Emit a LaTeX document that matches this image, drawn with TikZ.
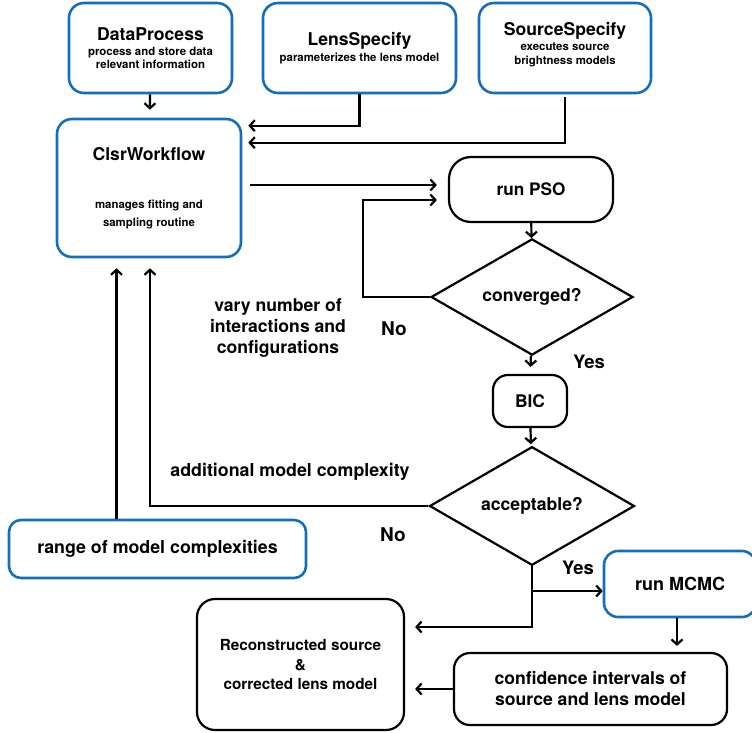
\documentclass[tikz,border=0pt]{standalone}
\usepackage{fontspec}
\setmainfont{TeX Gyre Heros}
\usetikzlibrary{arrows.meta,positioning,shapes.geometric}
\definecolor{boxblue}{RGB}{20,110,185}
\newcommand{\fs}[2]{\fontsize{#1}{#2}\selectfont}

\begin{document}
\begin{tikzpicture}[x=1pt,y=-1pt,>={Straight Barb[length=5pt,width=11pt]}]
    \tikzset{block/.style= {draw, rectangle
    , rounded corners=15pt
    , line width=2.2pt
    , inner sep=0pt
    , align=center
      }
    , blueblock/.style={block, draw=boxblue, line width=2.6pt}
    , decision/.style={draw, diamond, line width=2.2pt, inner sep=0pt
    , font=\bfseries\fs{17.6}{20}}
    , lbl/.style={align=center, inner sep=0pt}
    , arr/.style={draw, ->, line width=2.2pt}
    }
\useasboundingbox (0,0) rectangle (752,733);

% input modules
\node [blueblock, minimum width=163, minimum height=90, font=\bfseries\fs{11.4}{12.5}] (data) at (150.5,48)
  {{\fs{17.6}{18}DataProcess}\\[3pt]process and store data\\relevant information};
\node [blueblock, minimum width=193, minimum height=90, font=\bfseries\fs{11.4}{12.5}] (lens) at (359.5,48)
  {{\fs{17.6}{18}LensSpecify}\\[4pt]parameterizes the lens model};
\node [blueblock, minimum width=172, minimum height=90, font=\bfseries\fs{11.4}{14}] (source) at (565,48)
  {{\fs{17.6}{18}SourceSpecify}\\[1pt]executes source\\brightness models\\[-4pt]\mbox{}};
\node [blueblock, minimum width=184, minimum height=138, font=\bfseries\fs{11.4}{18}] (clsr) at (149,188)
  {{\fs{17.6}{18}ClsrWorkflow}\\[30pt]manages fitting and\\sampling routine};

% fitting loop
\node [block, rounded corners=22pt, minimum width=164, minimum height=65, font=\bfseries\fs{17.2}{20}] (pso) at (531,189.5)
  {run PSO};
\node [decision, minimum width=202, minimum height=99] (conv) at (532,297) {converged?};
\node [block, minimum width=74, minimum height=52, font=\bfseries\fs{17.4}{20}] (bic) at (530,401)
  {BIC};
\node [decision, minimum width=205, minimum height=102] (acc) at (532,506) {acceptable?};

\node [blueblock, rounded corners=12pt, minimum width=297, minimum height=58, font=\bfseries\fs{17.8}{20}] (range) at (157.5,549)
  {range of model complexities};
\node [blueblock, rounded corners=14pt, minimum width=152, minimum height=66, font=\bfseries\fs{18}{20}] (mcmc) at (680,584)
  {run MCMC};
\node [block, rounded corners=18pt, minimum width=207, minimum height=131, font=\bfseries\fs{15.3}{19.5}] (recon) at (300.5,664.5)
  {Reconstructed source\\\&\\corrected lens model};
\node [block, rounded corners=16pt, minimum width=273, minimum height=72, font=\bfseries\fs{17.6}{21}] (conf) at (590.5,689)
  {confidence intervals of\\source and lens model};

% labels
\node [lbl, font=\bfseries\fs{17.6}{21}] (vary) at (278,328)
  {vary number of\\interactions and\\configurations};
\node [lbl, font=\bfseries\fs{19}{20}] (no1) at (394,329) {No};
\node [lbl, font=\bfseries\fs{18.5}{20}] (yes1) at (589,362) {Yes};
\node [lbl, font=\bfseries\fs{17.8}{20}] (addl) at (290,472) {additional model complexity};
\node [lbl, font=\bfseries\fs{19}{20}] (no2) at (393,535) {No};
\node [lbl, font=\bfseries\fs{18.5}{20}] (yes2) at (578,568) {Yes};

\coordinate (psoin1) at ([yshift=4.5pt]pso.west);
\coordinate (psoin2) at ([yshift=-10.5pt]pso.west);
\coordinate (rng) at ([xshift=-41pt]range.north);

 \path[arr, shorten >=8pt] (data) -- (clsr);
 \path[arr, shorten >=6pt] (lens.south) |- ([yshift=-8pt]clsr.north east);
 \path[arr, shorten <=3pt, shorten >=6pt] (source.south) |- ([yshift=-25pt]clsr.north east);
 \path[arr, shorten <=8pt, shorten >=11pt] (clsr.east |- psoin1) -- (psoin1);
 \path[arr] (pso) -- (conv);
 \path[arr, shorten >=11pt] (conv.west) -- ++(-67,0) |- (psoin2);
 \path[arr, shorten >=7pt] (conv) -- (bic);
 \path[arr, shorten >=2pt] (bic) -- (acc);
 \path[arr, shorten >=10pt] (acc.west) -| ([xshift=1pt]clsr.south);
 \path[arr, shorten >=10pt] (rng) -- (rng |- clsr.south);
 \path[arr] (acc.south) |- ([yshift=-7pt]mcmc.west);
 \path[arr, shorten >=10pt] (acc.south) |- ([yshift=37.5pt]recon.east);
 \path[arr, shorten >=6pt] ([xshift=-3pt]mcmc.south) -- ([xshift=-3pt]mcmc.south |- conf.north);
 \path[arr, shorten >=10pt] (conf.west) -- (conf.west -| recon.east);
\end{tikzpicture}
\end{document}
